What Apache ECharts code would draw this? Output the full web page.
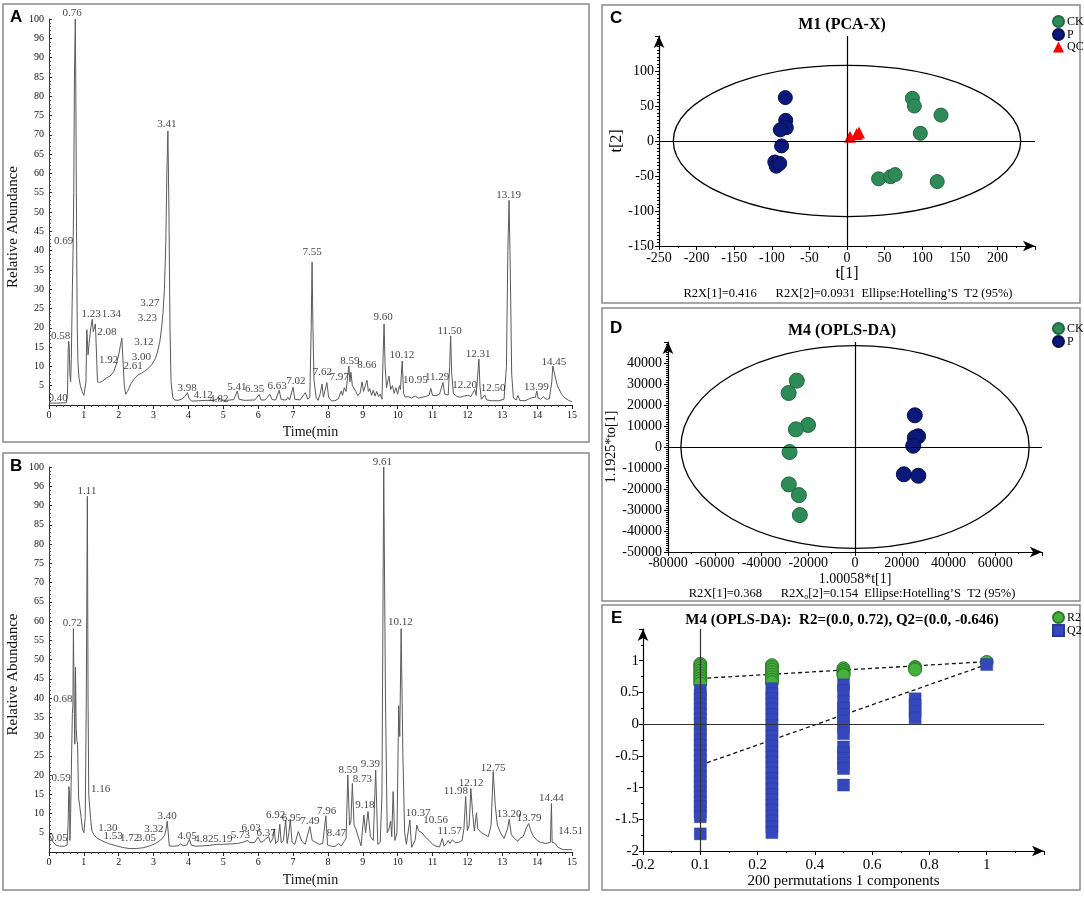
<!DOCTYPE html>
<html><head><meta charset="utf-8">
<script src="https://cdn.jsdelivr.net/npm/echarts@6/dist/echarts.min.js"></script>
<style>html,body{margin:0;padding:0;background:#fff}#c{width:1084px;height:901px}</style>
</head><body><div id="c"></div>
<script>
// ---------- DATA ----------
const chromA = [[0,0.5],[0.3,0.5],[0.5,0.6],[0.53,3],[0.55,14],[0.565,16.5],[0.58,15],[0.6,8],[0.62,6],[0.64,12],[0.67,30],[0.69,40],[0.71,55],[0.73,85],[0.755,100],[0.77,80],[0.79,45],[0.81,20],[0.83,11],[0.86,7],[0.9,5],[0.95,3.5],[1.0,2.5],[1.03,2.5],[1.06,6],[1.085,19.5],[1.1,17],[1.12,13],[1.15,16],[1.2,20],[1.24,22.2],[1.27,19],[1.3,20],[1.33,21],[1.36,14],[1.39,6],[1.45,5.8],[1.55,6.3],[1.65,7],[1.75,7.5],[1.85,8.5],[1.93,10.5],[2.0,13],[2.05,15.5],[2.09,17.3],[2.12,12],[2.16,5],[2.2,2.8],[2.25,3.5],[2.35,5.5],[2.45,6.8],[2.55,7.8],[2.65,8.2],[2.75,8.8],[2.85,9.5],[2.95,10.5],[3.05,12],[3.12,14],[3.18,16.5],[3.23,20],[3.27,24],[3.31,30],[3.35,42],[3.38,60],[3.41,71],[3.44,50],[3.47,20],[3.5,6],[3.55,2],[3.6,1.3],[3.7,1.2],[3.8,1.5],[3.9,2.2],[3.97,3.2],[4.02,1.6],[4.1,1.0],[4.3,1.1],[4.5,1.2],[4.7,1.2],[4.8,1.4],[4.85,2],[4.9,1.3],[5.1,1.2],[5.3,1.4],[5.4,3.6],[5.45,1.5],[5.6,1.2],[5.9,1.3],[6.03,2.7],[6.08,1.3],[6.2,1.3],[6.33,2.8],[6.4,1.4],[6.5,1.3],[6.6,3.8],[6.66,1.4],[6.8,1.3],[6.85,2],[6.9,1.3],[7.0,4.6],[7.05,1.5],[7.2,1.3],[7.35,3.2],[7.42,1.5],[7.48,2],[7.52,20],[7.545,37],[7.57,20],[7.6,6.5],[7.62,6.2],[7.66,2],[7.72,1.2],[7.78,3],[7.83,5.4],[7.87,2],[7.92,1.5],[7.97,5.8],[8.02,2],[8.1,1.1],[8.2,1.1],[8.3,1.6],[8.38,3.6],[8.42,2.5],[8.47,4.5],[8.52,3.5],[8.6,10.1],[8.63,6],[8.66,8.5],[8.7,5],[8.75,5.5],[8.8,3.5],[8.85,2.5],[8.92,3],[8.98,6],[9.02,3.5],[9.07,4],[9.12,6.4],[9.16,3.5],[9.2,4.2],[9.25,2.5],[9.3,3.8],[9.35,2.3],[9.4,3.5],[9.45,2.2],[9.5,2.8],[9.55,1.5],[9.58,12],[9.61,21],[9.64,10],[9.68,4.5],[9.75,7.5],[9.8,4],[9.85,5],[9.9,3],[9.95,4.5],[10.0,2.8],[10.05,5],[10.08,4],[10.13,11.4],[10.17,3],[10.22,2],[10.3,2.2],[10.4,1.8],[10.5,2.3],[10.6,1.8],[10.7,2],[10.8,2.2],[10.9,2.5],[10.95,4.3],[11.0,2.5],[11.1,2.4],[11.2,2.8],[11.3,5.8],[11.35,2.8],[11.45,2.6],[11.49,10],[11.52,17.9],[11.55,8],[11.6,3],[11.7,2.2],[11.8,2],[11.9,2.3],[12.0,2.5],[12.1,2.2],[12.15,3],[12.21,4],[12.25,2.5],[12.29,7],[12.33,11.9],[12.36,5],[12.4,1.5],[12.45,1.3],[12.5,2.6],[12.55,1.3],[12.7,1.1],[12.9,1.1],[13.05,1.5],[13.12,10],[13.16,40],[13.195,53],[13.23,35],[13.27,8],[13.32,1.8],[13.4,1.3],[13.45,2.5],[13.5,1.2],[13.65,1.1],[13.75,1.5],[13.85,1.9],[13.95,2],[13.99,3.6],[14.03,1.8],[14.1,1.5],[14.18,2.2],[14.25,1.5],[14.35,1.6],[14.42,6],[14.45,10.1],[14.5,8],[14.58,5],[14.7,2.8],[14.8,1.8],[14.9,1.2],[15,0.8]];

const chromB = [[0,3.2],[0.05,3.8],[0.1,2.8],[0.2,1.8],[0.3,1.5],[0.45,1.5],[0.52,1.8],[0.55,8],[0.57,17],[0.59,15],[0.6,3],[0.62,10],[0.65,26],[0.67,36],[0.685,38],[0.70,58],[0.72,40],[0.74,28],[0.76,48],[0.78,32],[0.8,29],[0.82,28],[0.85,14],[0.88,12],[0.92,9],[0.96,6],[1.0,5],[1.04,9],[1.07,40],[1.1,92.4],[1.12,40],[1.14,15],[1.16,15.5],[1.19,9],[1.23,5.5],[1.3,4.3],[1.4,3.5],[1.5,3],[1.7,2.2],[1.9,1.7],[2.1,1.2],[2.3,0.9],[2.5,0.9],[2.7,1.1],[2.9,1.6],[3.05,2.2],[3.15,2.8],[3.25,3.5],[3.32,4.5],[3.36,6],[3.39,8],[3.42,5],[3.45,1.6],[3.55,1.5],[3.7,1.6],[3.78,2.1],[3.85,1.6],[3.95,1.8],[4.03,3.3],[4.08,1.8],[4.2,1.5],[4.4,1.6],[4.6,1.7],[4.82,2],[5.0,2],[5.2,2.1],[5.4,2.2],[5.55,2.5],[5.7,3],[5.76,2.4],[5.9,2.5],[6.0,3.9],[6.07,2.5],[6.15,2.8],[6.22,3.5],[6.3,4],[6.35,2.4],[6.42,3.5],[6.46,6],[6.5,2.2],[6.57,3],[6.62,7.2],[6.66,2.4],[6.72,3],[6.79,8.3],[6.83,2.2],[6.88,5],[6.92,8.5],[6.97,2.5],[7.05,2],[7.15,5.3],[7.25,2.8],[7.35,2],[7.48,6.6],[7.55,3],[7.65,2.5],[7.75,2],[7.85,2.2],[7.94,9.4],[7.99,1.8],[8.1,1.5],[8.2,1.4],[8.3,2.2],[8.38,1.6],[8.47,2.8],[8.52,3.5],[8.57,20],[8.62,7],[8.66,8],[8.70,17.8],[8.75,7],[8.8,6],[8.85,6.5],[8.95,1.6],[9.03,9.6],[9.08,5],[9.15,10.5],[9.22,4],[9.3,3],[9.37,21.3],[9.43,2],[9.5,2.5],[9.55,15],[9.6,100],[9.65,40],[9.7,5],[9.75,6],[9.8,8],[9.83,4],[9.87,15.7],[9.92,3],[9.98,5],[10.03,38],[10.06,30],[10.1,58],[10.15,25],[10.2,5],[10.25,2],[10.3,1.5],[10.35,8.3],[10.4,1.2],[10.5,3],[10.55,7],[10.6,5.5],[10.7,5],[10.8,3.8],[10.9,3],[11.0,2],[11.1,1.5],[11.2,1.3],[11.28,3.5],[11.33,1.5],[11.4,2.2],[11.45,3],[11.5,2.2],[11.57,3.2],[11.65,2.4],[11.75,2.5],[11.85,3],[11.9,6],[11.95,14.4],[12.0,5.5],[12.05,7],[12.1,16.5],[12.15,10],[12.2,5.5],[12.26,10.2],[12.3,6],[12.35,6.5],[12.4,5],[12.5,4.5],[12.6,4],[12.68,7],[12.74,20.9],[12.8,12],[12.86,7],[12.95,5],[13.05,3.5],[13.15,6],[13.2,8.5],[13.26,4.5],[13.35,3.5],[13.45,2.8],[13.5,3.5],[13.6,4],[13.7,6.5],[13.76,7.4],[13.82,5.5],[13.9,4],[14.0,3],[14.1,2.5],[14.25,2.2],[14.38,2.5],[14.41,12.6],[14.43,2.5],[14.51,2.3],[14.6,1.2],[14.75,0.6],[15,0.6]];

// peak annotations: [retention time, abundance, text]
const peaksA = [[0.26,1.7,'0.40'],[0.33,17.9,'0.58'],[0.42,42.4,'0.69'],[0.66,101.5,'0.76'],[1.21,23.5,'1.23'],[1.79,23.5,'1.34'],[1.66,18.8,'2.08'],[1.71,11.7,'1.92'],[2.41,10,'2.61'],[2.65,12.3,'3.00'],[2.72,16.2,'3.12'],[2.82,22.4,'3.23'],[2.89,26.3,'3.27'],[3.38,72.7,'3.41'],[3.96,4.5,'3.98'],[4.42,2.5,'4.12'],[4.87,1.6,'4.82'],[5.39,4.7,'5.41'],[5.9,4.2,'6.35'],[6.54,4.8,'6.63'],[7.08,6.1,'7.02'],[7.545,39.7,'7.55'],[7.84,8.6,'7.62'],[8.32,7.3,'7.97'],[8.63,11.4,'8.59'],[9.12,10.4,'8.66'],[9.58,22.7,'9.60'],[10.12,12.9,'10.12'],[10.51,6.4,'10.95'],[11.13,7.3,'11.29'],[11.49,19.2,'11.50'],[11.92,5.2,'12.20'],[12.31,13.2,'12.31'],[12.74,4.3,'12.50'],[13.18,54.3,'13.19'],[13.98,4.7,'13.99'],[14.48,11.2,'14.45']];
const peaksB = [[0.26,3.7,'0.05'],[0.35,19.3,'0.59'],[0.40,39.6,'0.68'],[0.67,59.5,'0.72'],[1.09,93.7,'1.11'],[1.48,16.4,'1.16'],[1.69,6.3,'1.30'],[1.84,4.2,'1.53'],[2.31,3.7,'1.72'],[2.79,3.5,'3.05'],[3.01,5.9,'3.32'],[3.39,9.3,'3.40'],[3.96,4.2,'4.05'],[4.44,3.3,'4.82'],[4.99,3.3,'5.19'],[5.49,4.3,'5.73'],[5.8,6.3,'6.03'],[6.23,5,'6.37'],[6.5,9.6,'6.92'],[6.95,8.7,'6.95'],[7.48,7.9,'7.49'],[7.96,10.6,'7.96'],[8.24,4.8,'8.47'],[8.58,21.3,'8.59'],[8.99,18.9,'8.73'],[9.06,12.2,'9.18'],[9.22,22.9,'9.39'],[9.56,101.4,'9.61'],[10.08,59.7,'10.12'],[10.59,10.2,'10.37'],[11.09,8.3,'10.56'],[11.49,5.3,'11.57'],[11.67,15.7,'11.98'],[12.11,17.8,'12.12'],[12.74,21.7,'12.75'],[13.2,9.9,'13.20'],[13.77,8.7,'13.79'],[14.41,13.9,'14.44'],[14.96,5.5,'14.51']];
const chromYLabels = ['','5','10','15','20','25','30','35','40','45','50','55','60','65','70','75','80','85','90','96','100'];

// PCA-X scores t[1], t[2]
const pcaCK = [[87,61],[89.5,50],[125,37],[97.5,11],[42,-54],[58,-51],[64,-48],[120,-58]];
const pcaP = [[-82,62],[-81.5,29.5],[-80.7,19],[-88.7,16],[-87,-7],[-96,-30],[-94,-36],[-89.5,-32]];
const pcaQC = [[4,6],[13,10],[16,12]];
const ellipseC = [231,108];

// OPLS-DA scores
const oplsCK = [[-24900,31600],[-28400,25700],[-20100,10500],[-25300,8400],[-28000,-2400],[-28300,-17800],[-24000,-22900],[-23600,-32400]];
const oplsP = [[25600,15100],[27000,5100],[25600,4400],[24900,600],[20900,-13000],[27100,-13700]];
const ellipseD = [74500,48300];

// Permutation test
const permX = [0,0.25,0.5,0.75,1];
const r2Cols = [
  [0.95,0.92,0.88,0.84,0.8,0.76,0.72,0.68,0.64],
  [0.93,0.9,0.86,0.82,0.78,0.74,0.7,0.66],
  [0.88,0.85,0.82,0.79,0.77],
  [0.9,0.88,0.86],
  [0.98]
];
const q2Cols = [
  [0.53,0.46,0.4,0.31,0.24,0.16,0.08,0.0,-0.09,-0.17,-0.25,-0.33,-0.42,-0.5,-0.58,-0.66,-0.74,-0.83,-0.91,-0.99,-1.07,-1.15,-1.23,-1.3,-1.38,-1.46,-1.73],
  [0.56,0.48,0.4,0.32,0.24,0.15,0.07,-0.02,-0.1,-0.19,-0.27,-0.35,-0.44,-0.52,-0.6,-0.69,-0.77,-0.86,-0.94,-1.02,-1.11,-1.19,-1.28,-1.36,-1.45,-1.53,-1.62,-1.71],
  [0.62,0.53,0.35,0.25,0.15,0.05,-0.05,-0.15,-0.36,-0.45,-0.54,-0.62,-0.7,-0.96],
  [0.4,0.3,0.2,0.1],
  [0.94]
];
const r2Line = [[0,0.72],[1,0.985]];
const q2Line = [[0,-0.646],[1,0.94]];
const eXTicks = [-0.2,0,0.2,0.4,0.6,0.8,1];
const eXLabels = ['-0.2','0.1','0.2','0.4','0.6','0.8','1'];

// ---------- CHART ----------
const SERIF = "'Liberation Serif','Times New Roman',serif";
const SANS = "'Liberation Sans',Arial,sans-serif";
const chart = echarts.init(document.getElementById('c'));

function chromX(gi, gap){
  return {gridIndex:gi, type:'value', min:0, max:15, interval:1,
    name:'Time(min', nameLocation:'middle', nameGap:gap,
    nameTextStyle:{fontFamily:SERIF, fontSize:14, color:'#111'},
    axisLine:{onZero:false, lineStyle:{color:'#222', width:1}},
    axisTick:{length:4, lineStyle:{color:'#222'}},
    minorTick:{show:true, splitNumber:5, length:2, lineStyle:{color:'#444'}},
    axisLabel:{fontFamily:SERIF, fontSize:10, color:'#111', margin:5},
    splitLine:{show:false}};
}
function chromY(gi){
  return {gridIndex:gi, type:'value', min:0, max:100, interval:5,
    name:'Relative Abundance', nameLocation:'middle', nameGap:28,
    nameTextStyle:{fontFamily:SERIF, fontSize:15, color:'#111', padding:[0,30,0,0]},
    axisLine:{onZero:false, lineStyle:{color:'#333', width:1}},
    axisTick:{inside:true, length:3, lineStyle:{color:'#333'}},
    minorTick:{show:true, splitNumber:5, length:2, lineStyle:{color:'#555'}},
    axisLabel:{fontFamily:SERIF, fontSize:10, color:'#111', margin:5,
      formatter:v=>chromYLabels[Math.round(v/5)]},
    splitLine:{show:false}};
}
function sciAxis(gi, opt){
  const hideMax = opt.max;
  return Object.assign({gridIndex:gi, type:'value',
    axisLine:{onZero:false, symbol:['none','arrow'], symbolSize:[8,12], lineStyle:{color:'#000', width:1.2}},
    axisTick:{length:4, lineStyle:{color:'#000'}},
    minorTick:{show:true, splitNumber:opt.minor||5, length:2, lineStyle:{color:'#000'}},
    axisLabel:{fontFamily:SERIF, fontSize:opt.fs||14, color:'#000', margin:opt.margin||5,
      formatter: opt.fmt || (v => (Math.abs(v-hideMax)<1e-9 ? '' : String(v)))},
    splitLine:{show:false},
    nameTextStyle:{fontFamily:SERIF, fontSize:opt.nfs||15, color:'#000'}}, opt.extra||{}, {min:opt.min, max:opt.max, interval:opt.interval});
}
function labelSeries(xi, data){
  return {type:'scatter', xAxisIndex:xi, yAxisIndex:xi, data:data, symbolSize:1, clip:false, silent:true, z:5,
    itemStyle:{color:'rgba(0,0,0,0)'},
    label:{show:true, position:'inside', formatter:p=>p.data[2], fontFamily:SERIF, fontSize:11, color:'#111'}};
}
const crossLines = color => ({silent:true, symbol:'none', label:{show:false}, animation:false,
  lineStyle:{color:color, type:'solid', width:1.2}, data:[{xAxis:0},{yAxis:0}]});

const r2Data = permX.flatMap((x,i)=>r2Cols[i].map(y=>[x,y]));
const q2Data = permX.flatMap((x,i)=>q2Cols[i].map(y=>[x,y]));

const option = {
  animation:false,
  backgroundColor:'#fff',
  title:[
    {text:'M1 (PCA-X)', left:837, top:12, textAlign:'center', textStyle:{fontFamily:SERIF, fontWeight:'bold', fontSize:16, color:'#000'}},
    {text:'M4 (OPLS-DA)', left:837, top:318, textAlign:'center', textStyle:{fontFamily:SERIF, fontWeight:'bold', fontSize:16, color:'#000'}},
    {text:'M4 (OPLS-DA):  R2=(0.0, 0.72), Q2=(0.0, -0.646)', left:837, top:608, textAlign:'center', textStyle:{fontFamily:SERIF, fontWeight:'bold', fontSize:15, color:'#000'}}
  ],
  legend:[
    {data:['CK','P','QC'], left:1047, top:10, orient:'vertical', itemWidth:11, itemHeight:11, itemGap:0, selectedMode:false, textStyle:{fontFamily:SERIF, fontSize:12, color:'#000', padding:[0,0,0,-2]}},
    {data:['CK','P'], left:1047, top:317, orient:'vertical', itemWidth:11, itemHeight:11, itemGap:0, selectedMode:false, textStyle:{fontFamily:SERIF, fontSize:12, color:'#000', padding:[0,0,0,-2]}},
    {data:['R2','Q2'], left:1047, top:606, orient:'vertical', itemWidth:11, itemHeight:11, itemGap:0, selectedMode:false, textStyle:{fontFamily:SERIF, fontSize:12, color:'#000', padding:[0,0,0,-2]}}
  ],
  grid:[
    {left:49, top:19, width:523, height:386},
    {left:49, top:467, width:523, height:385},
    {left:659, top:36, width:376, height:210},
    {left:668, top:342, width:374, height:210},
    {left:643, top:629, width:401, height:222}
  ],
  xAxis:[
    chromX(0,20), chromX(1,21),
    sciAxis(2,{min:-250,max:250,interval:50,minor:2,extra:{name:'t[1]',nameLocation:'middle',nameGap:19},nfs:16}),
    sciAxis(3,{min:-80000,max:80000,interval:20000,minor:2,margin:4,extra:{name:'1.00058*t[1]',nameLocation:'middle',nameGap:20},nfs:14}),
    sciAxis(4,{min:-0.2,max:1.2,interval:0.2,minor:2,fs:15,margin:7,extra:{name:'200 permutations 1 components',nameLocation:'middle',nameGap:20},
      fmt:v=>{const i=eXTicks.findIndex(t=>Math.abs(t-v)<1e-6); return i<0?'':eXLabels[i];}})
  ],
  yAxis:[
    chromY(0), chromY(1),
    sciAxis(2,{min:-150,max:150,interval:50,minor:10,extra:{name:'t[2]',nameLocation:'middle',nameGap:31},nfs:16}),
    sciAxis(3,{min:-50000,max:50000,interval:10000,minor:10,margin:6,extra:{name:'1.1925*to[1]',nameLocation:'middle',nameGap:48},nfs:14}),
    sciAxis(4,{min:-2,max:1.5,interval:0.5,minor:2,fs:15,margin:4})
  ],
  series:[
    {type:'line', xAxisIndex:0, yAxisIndex:0, data:chromA, symbol:'none', lineStyle:{color:'#5a5a5a', width:1}, z:2},
    labelSeries(0, peaksA),
    {type:'line', xAxisIndex:1, yAxisIndex:1, data:chromB, symbol:'none', lineStyle:{color:'#5a5a5a', width:1}, z:2},
    labelSeries(1, peaksB),
    {name:'CK', type:'scatter', xAxisIndex:2, yAxisIndex:2, data:pcaCK, symbol:'circle', symbolSize:14,
      itemStyle:{color:'#2e8b57', borderColor:'#1d6a40', borderWidth:1, opacity:1}, markLine:crossLines('#000'), z:3},
    {name:'P', type:'scatter', xAxisIndex:2, yAxisIndex:2, data:pcaP, symbol:'circle', symbolSize:14,
      itemStyle:{color:'#0b1a7a', borderColor:'#050d50', borderWidth:1, opacity:1}, z:3},
    {name:'QC', type:'scatter', xAxisIndex:2, yAxisIndex:2, data:pcaQC, symbol:'triangle', symbolSize:12,
      itemStyle:{color:'#ff0000', opacity:1}, z:3},
    {name:'CK', type:'scatter', xAxisIndex:3, yAxisIndex:3, data:oplsCK, symbol:'circle', symbolSize:15,
      itemStyle:{color:'#2e8b57', borderColor:'#1d6a40', borderWidth:1, opacity:1}, markLine:crossLines('#000'), z:3},
    {name:'P', type:'scatter', xAxisIndex:3, yAxisIndex:3, data:oplsP, symbol:'circle', symbolSize:15,
      itemStyle:{color:'#0b1a7a', borderColor:'#050d50', borderWidth:1, opacity:1}, z:3},
    {type:'line', xAxisIndex:4, yAxisIndex:4, data:r2Line, symbol:'none', silent:true, lineStyle:{color:'#111', width:1.3, type:[4,3]}, z:1},
    {type:'line', xAxisIndex:4, yAxisIndex:4, data:q2Line, symbol:'none', silent:true, lineStyle:{color:'#111', width:1.3, type:[4,3]}, z:1},
    {name:'R2', type:'scatter', xAxisIndex:4, yAxisIndex:4, data:r2Data, symbol:'circle', symbolSize:13,
      itemStyle:{color:'#45b03c', borderColor:'#2b7a26', borderWidth:1, opacity:1}, markLine:crossLines('#333'), z:3},
    {name:'Q2', type:'scatter', xAxisIndex:4, yAxisIndex:4, data:q2Data, symbol:'rect', symbolSize:12,
      itemStyle:{color:'#3447bd', borderColor:'#2a3994', borderWidth:0.4, opacity:1}, z:4}
  ]
};
chart.setOption(option);

function ellipseShape(gi, ab){
  const p0 = chart.convertToPixel({gridIndex:gi},[0,0]);
  const p1 = chart.convertToPixel({gridIndex:gi},[ab[0],ab[1]]);
  return {cx:p0[0], cy:p0[1], rx:Math.abs(p1[0]-p0[0]), ry:Math.abs(p0[1]-p1[1])};
}
const border = {stroke:'#8a8a8a', lineWidth:1.5, fill:'none'};
chart.setOption({graphic:[
  {type:'rect', shape:{x:3,y:4,width:586,height:438}, style:border, silent:true},
  {type:'rect', shape:{x:3,y:453,width:586,height:437}, style:border, silent:true},
  {type:'rect', shape:{x:602,y:5,width:478,height:298}, style:border, silent:true},
  {type:'rect', shape:{x:602,y:308,width:478,height:293}, style:border, silent:true},
  {type:'rect', shape:{x:602,y:605,width:478,height:285}, style:border, silent:true},
  {type:'text', left:10, top:9, style:{text:'A', font:"bold 17px "+SANS, fill:'#000'}},
  {type:'text', left:10, top:458, style:{text:'B', font:"bold 17px "+SANS, fill:'#000'}},
  {type:'text', left:610, top:10, style:{text:'C', font:"bold 17px "+SANS, fill:'#000'}},
  {type:'text', left:610, top:320, style:{text:'D', font:"bold 17px "+SANS, fill:'#000'}},
  {type:'text', left:611, top:610, style:{text:'E', font:"bold 17px "+SANS, fill:'#000'}},
  {type:'text', x:848, y:294, style:{text:'R2X[1]=0.416      R2X[2]=0.0931  Ellipse:Hotelling\u2019S  T2 (95%)', font:"12.5px "+SERIF, fill:'#000', textAlign:'center', textVerticalAlign:'middle'}},
  {type:'text', x:852, y:594, style:{text:'R2X[1]=0.368      R2X{s|o}[2]=0.154  Ellipse:Hotelling\u2019S  T2 (95%)', rich:{s:{fontSize:8, fontFamily:SERIF, verticalAlign:'bottom', padding:[6,0,0,0]}}, font:"12.5px "+SERIF, fill:'#000', textAlign:'center', textVerticalAlign:'middle'}},
  {type:'ellipse', shape:ellipseShape(2, ellipseC), style:{stroke:'#000', lineWidth:1.3, fill:'none'}, silent:true, z:1},
  {type:'ellipse', shape:ellipseShape(3, ellipseD), style:{stroke:'#000', lineWidth:1.3, fill:'none'}, silent:true, z:1}
]});
</script>
</body></html>
